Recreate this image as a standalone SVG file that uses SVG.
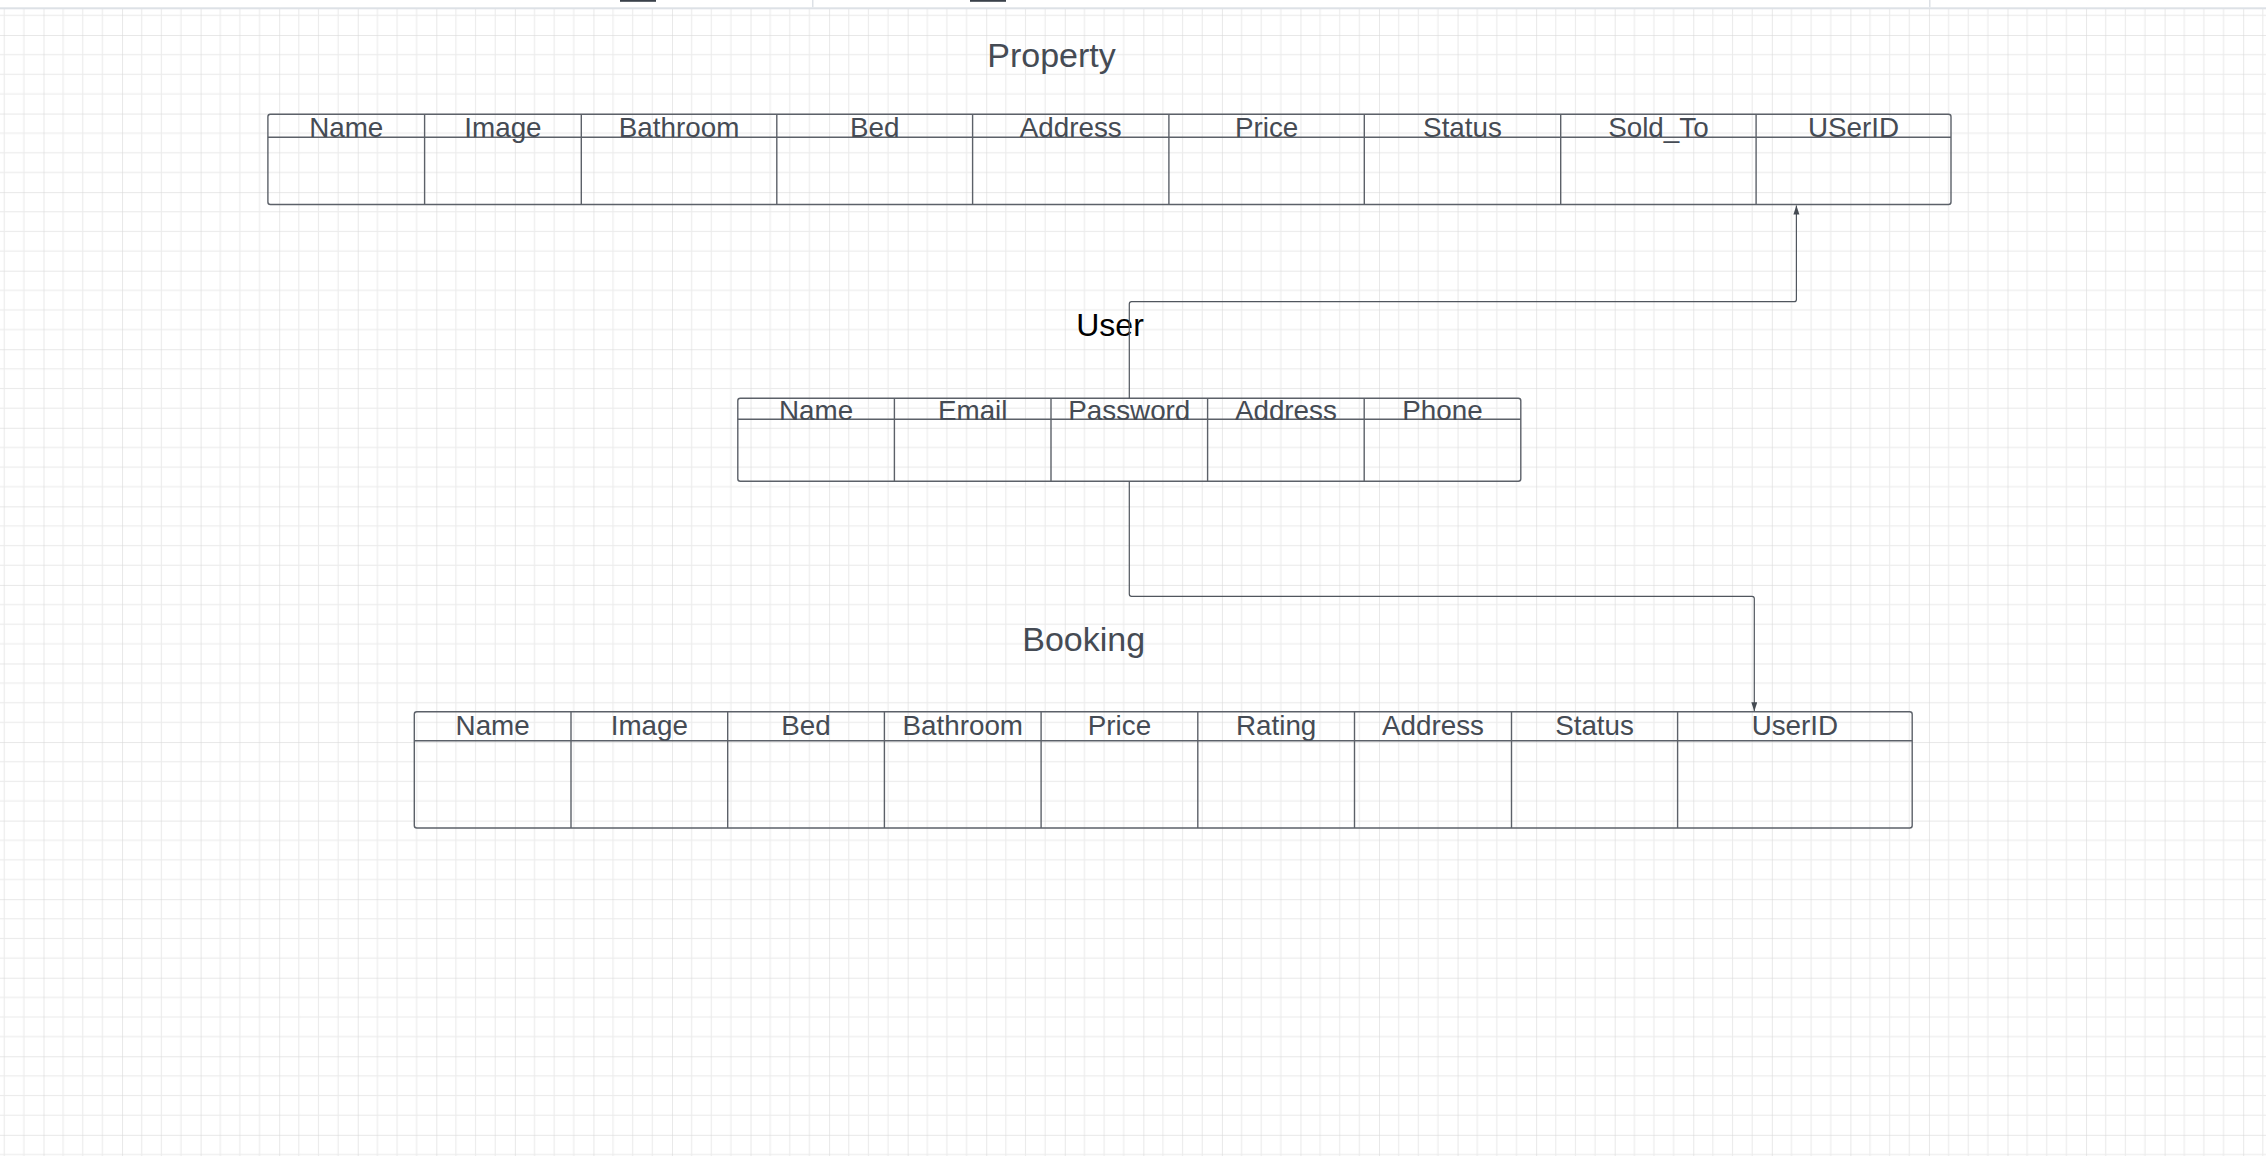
<svg xmlns="http://www.w3.org/2000/svg" width="2266" height="1156" viewBox="0 0 2266 1156">
<defs>
<pattern id="grid" x="43.5" y="35" width="78.56" height="78.56" patternUnits="userSpaceOnUse">
<rect width="78.56" height="78.56" fill="#ffffff"/>
<g fill="#ebebeb">
<rect x="19.14" y="0" width="1" height="78.56"/>
<rect x="38.78" y="0" width="1" height="78.56"/>
<rect x="58.42" y="0" width="1" height="78.56"/>
<rect x="0" y="19.14" width="78.56" height="1"/>
<rect x="0" y="38.78" width="78.56" height="1"/>
<rect x="0" y="58.42" width="78.56" height="1"/>
</g>
<g fill="#dadada">
<rect x="-0.6" y="0" width="1.2" height="78.56"/>
<rect x="0" y="-0.6" width="78.56" height="1.2"/>
</g>
</pattern>
<marker id="arrow" markerUnits="userSpaceOnUse" markerWidth="10" markerHeight="8" refX="9" refY="3" orient="auto">
<path d="M0,0 L9,3 L0,6 z" fill="#444a52"/>
</marker>
<style>
.tbl { fill: none; stroke: #5c6169; stroke-width: 1.4; }
.ln { stroke: #5c6169; stroke-width: 1.4; fill: none; }
.hd { font-family: "Liberation Sans", Arial, sans-serif; font-size: 27.8px; fill: #454b54; text-anchor: middle; }
.title { font-family: "Liberation Sans", Arial, sans-serif; text-anchor: middle; }
.conn { fill: none; stroke: #50565e; stroke-width: 1.2; }
</style>
</defs>
<rect x="0" y="0" width="2266" height="1156" fill="url(#grid)"/>
<g id="topbar">
<rect x="0" y="0" width="2266" height="8" fill="#ffffff"/>
<rect x="0" y="7.3" width="2266" height="2" fill="#dde1e6"/>
<rect x="812" y="0" width="1.5" height="7.3" fill="#dde1e6"/>
<rect x="1929" y="0" width="1.5" height="7.3" fill="#dde1e6"/>
<rect x="620" y="0" width="36" height="1.8" fill="#3a414a"/>
<rect x="970" y="0" width="36" height="1.8" fill="#3a414a"/>
</g>

<g id="property">
<text class="title" x="1051.5" y="66.5" font-size="34" fill="#454b54">Property</text>
<rect class="tbl" x="267.9" y="114.3" width="1683.1" height="90.2" rx="2.5"/>
<line class="ln" x1="267.9" y1="137.3" x2="1951" y2="137.3"/>
<g class="ln">
<line x1="424.6" y1="114.3" x2="424.6" y2="204.5"/>
<line x1="581.3" y1="114.3" x2="581.3" y2="204.5"/>
<line x1="776.8" y1="114.3" x2="776.8" y2="204.5"/>
<line x1="972.6" y1="114.3" x2="972.6" y2="204.5"/>
<line x1="1168.9" y1="114.3" x2="1168.9" y2="204.5"/>
<line x1="1364.3" y1="114.3" x2="1364.3" y2="204.5"/>
<line x1="1560.7" y1="114.3" x2="1560.7" y2="204.5"/>
<line x1="1756.1" y1="114.3" x2="1756.1" y2="204.5"/>
</g>
<text class="hd" x="346.25" y="137">Name</text>
<text class="hd" x="502.95" y="137">Image</text>
<text class="hd" x="679.05" y="137">Bathroom</text>
<text class="hd" x="874.7" y="137">Bed</text>
<text class="hd" x="1070.75" y="137">Address</text>
<text class="hd" x="1266.6" y="137">Price</text>
<text class="hd" x="1462.5" y="137">Status</text>
<text class="hd" x="1658.4" y="137">Sold_To</text>
<text class="hd" x="1853.55" y="137">USerID</text>
</g>

<g id="user">
<text class="title" x="1110" y="336" font-size="32" fill="#000000">User</text>
<rect class="tbl" x="737.8" y="398.3" width="783" height="83" rx="2.5"/>
<line class="ln" x1="737.8" y1="419.3" x2="1520.8" y2="419.3"/>
<g class="ln">
<line x1="894.4" y1="398.3" x2="894.4" y2="481.3"/>
<line x1="1051" y1="398.3" x2="1051" y2="481.3"/>
<line x1="1207.6" y1="398.3" x2="1207.6" y2="481.3"/>
<line x1="1364.2" y1="398.3" x2="1364.2" y2="481.3"/>
</g>
<text class="hd" x="816.1" y="420">Name</text>
<text class="hd" x="972.7" y="420">Email</text>
<text class="hd" x="1129.3" y="420">Password</text>
<text class="hd" x="1285.9" y="420">Address</text>
<text class="hd" x="1442.5" y="420">Phone</text>
</g>

<g id="booking">
<text class="title" x="1083.7" y="650.5" font-size="34" fill="#454b54">Booking</text>
<rect class="tbl" x="414.3" y="711.7" width="1497.9" height="116.3" rx="2.5"/>
<line class="ln" x1="414.3" y1="740.7" x2="1912.2" y2="740.7"/>
<g class="ln">
<line x1="571" y1="711.7" x2="571" y2="828"/>
<line x1="727.7" y1="711.7" x2="727.7" y2="828"/>
<line x1="884.4" y1="711.7" x2="884.4" y2="828"/>
<line x1="1041.1" y1="711.7" x2="1041.1" y2="828"/>
<line x1="1197.8" y1="711.7" x2="1197.8" y2="828"/>
<line x1="1354.5" y1="711.7" x2="1354.5" y2="828"/>
<line x1="1511.5" y1="711.7" x2="1511.5" y2="828"/>
<line x1="1677.6" y1="711.7" x2="1677.6" y2="828"/>
</g>
<text class="hd" x="492.65" y="735">Name</text>
<text class="hd" x="649.35" y="735">Image</text>
<text class="hd" x="806.05" y="735">Bed</text>
<text class="hd" x="962.75" y="735">Bathroom</text>
<text class="hd" x="1119.45" y="735">Price</text>
<text class="hd" x="1276.15" y="735">Rating</text>
<text class="hd" x="1433" y="735">Address</text>
<text class="hd" x="1594.55" y="735">Status</text>
<text class="hd" x="1794.9" y="735">UserID</text>
</g>

<g id="connectors">
<path class="conn" d="M1129.3,398.3 V304 Q1129.3,301.7 1131.6,301.7 H1794.1 Q1796.4,301.7 1796.4,299.4 V205.5" marker-end="url(#arrow)"/>
<path class="conn" d="M1129.3,481.3 V594 Q1129.3,596.3 1131.6,596.3 H1752 Q1754.3,596.3 1754.3,598.6 V711.2" marker-end="url(#arrow)"/>
</g>
</svg>
